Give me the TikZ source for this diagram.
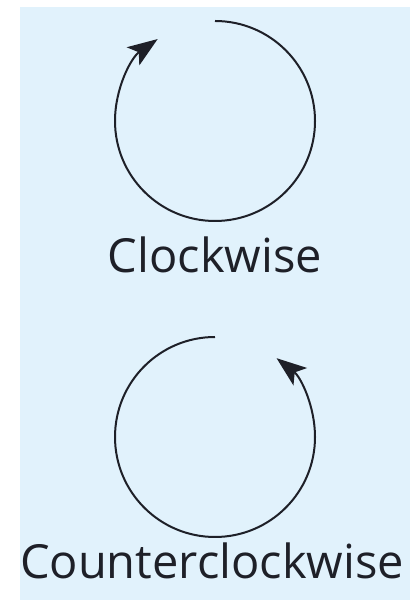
\documentclass[tikz,border=0pt]{standalone}
\usepackage{fontspec}
\setmainfont{Open Sans}
\usetikzlibrary{arrows.meta}
\definecolor{paleblue}{RGB}{225,242,252}
\definecolor{inkdark}{RGB}{30,32,40}
\begin{document}
\begin{tikzpicture}[x=1pt,y=1pt,
  turn/.style={draw=inkdark,line width=2pt,-{Stealth[length=30pt,width=22pt,inset=7pt]}},
  caption/.style={font=\fontsize{47}{56}\selectfont,text=inkdark,anchor=base,inner sep=0pt}]
\useasboundingbox (0,0) rectangle (410,601);
\fill[paleblue] (20,1) rectangle (410,594);
\coordinate (cw) at (215,480);
\coordinate (ccw) at (215,164);
\draw[turn] (cw) ++(90:100) arc[start angle=90,end angle=-235,radius=100];
\draw[turn] (ccw) ++(90:100) arc[start angle=90,end angle=412,radius=100];
\node[caption] (cwlabel) at (215,328) {Clockwise};
\node[caption] (ccwlabel) at (212,22) {Counterclockwise};
\end{tikzpicture}
\end{document}
